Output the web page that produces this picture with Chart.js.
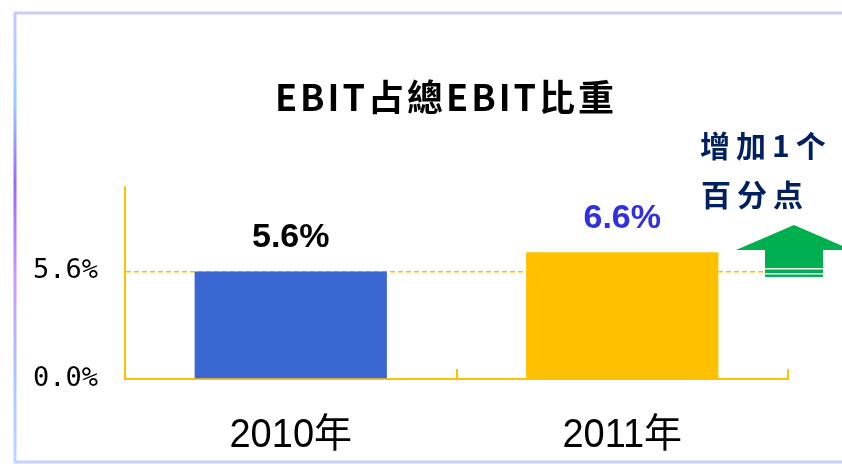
<!DOCTYPE html>
<html>
<head>
<meta charset="utf-8">
<script src="https://cdn.jsdelivr.net/npm/chart.js"></script>
<style>
html, body { margin: 0; padding: 0; background: #ffffff; }
#contenedor { width: 842px; height: 464px; position: relative; }
</style>
</head>
<body>
<div id="contenedor"><canvas id="grafico" width="842" height="464"></canvas></div>
<script>
// datos del gráfico
const categorias = ['2010年', '2011年'];
const valores = [5.6, 6.6];
const etiquetasValor = ['5.6%', '6.6%'];
const ticksY = [0, 5.6];
const lineaReferencia = 5.6;
const titulo = 'EBIT占總EBIT比重';
const nota = ['增加1个', '百分点'];

const coloresBarra = ['#3b67d3', '#ffc000'];
const coloresEtiqueta = ['#000000', '#3030e0'];
const dorado = '#ffc000';

// marco de la diapositiva
const marco = {
    id: 'marco',
    beforeDraw(chart) {
        const ctx = chart.ctx;
        ctx.save();
        ctx.fillStyle = '#ffffff';
        ctx.fillRect(0, 0, chart.width, chart.height);
        ctx.lineWidth = 3;
        ctx.strokeStyle = '#ccccf8';
        ctx.beginPath();
        ctx.moveTo(14, 13);
        ctx.lineTo(chart.width, 13);
        ctx.stroke();
        ctx.strokeStyle = '#c6d2f8';
        ctx.beginPath();
        ctx.moveTo(14, 462);
        ctx.lineTo(chart.width, 462);
        ctx.stroke();
        const g = ctx.createLinearGradient(0, 12, 0, 462);
        g.addColorStop(0, '#c8c8ff');
        g.addColorStop(0.2, '#99ccff');
        g.addColorStop(0.38, '#9966ff');
        g.addColorStop(0.6, '#cc99ff');
        g.addColorStop(0.82, '#a8c8ff');
        g.addColorStop(1, '#c0d4ff');
        ctx.strokeStyle = g;
        ctx.beginPath();
        ctx.moveTo(15, 12);
        ctx.lineTo(15, 463);
        ctx.stroke();
        ctx.restore();
    }
};

// etiquetas de valor encima de las barras y categorías del eje x
const etiquetas = {
    id: 'etiquetas',
    afterDatasetsDraw(chart) {
        const ctx = chart.ctx;
        const meta = chart.getDatasetMeta(0);
        ctx.save();
        ctx.font = 'bold 34px "Liberation Sans", Arial, sans-serif';
        ctx.textAlign = 'center';
        ctx.textBaseline = 'alphabetic';
        meta.data.forEach((barra, i) => {
            ctx.fillStyle = coloresEtiqueta[i];
            ctx.fillText(etiquetasValor[i], barra.x, barra.y - 24);
        });

        // categorías
        const ejeX = chart.scales.x;
        ctx.fillStyle = '#000000';
        ctx.font = '40px "Liberation Sans", Arial, "Noto Sans CJK SC", sans-serif';
        categorias.forEach((cat, i) => {
            const px = ejeX.getPixelForTick(i);
            ctx.save();
            ctx.translate(px, ejeX.top + 68);
            ctx.scale(0.95, 1);
            ctx.fillText(cat, 0, 0);
            ctx.restore();
        });
        ctx.restore();
    }
};

// título, flecha y nota
const adornos = {
    id: 'adornos',
    afterDraw(chart) {
        const ctx = chart.ctx;
        ctx.save();
        ctx.fillStyle = '#000000';
        ctx.font = 'bold 36px "Noto Sans CJK TC", "Noto Sans CJK SC", sans-serif';
        ctx.letterSpacing = '3px';
        ctx.textAlign = 'center';
        ctx.textBaseline = 'middle';
        ctx.fillText(titulo, 446, 97);

        // flecha verde
        ctx.fillStyle = '#00b050';
        ctx.beginPath();
        ctx.moveTo(736, 250);
        ctx.lineTo(794, 225);
        ctx.lineTo(852, 250);
        ctx.closePath();
        ctx.fill();
        ctx.fillRect(765, 249, 58, 28);
        ctx.fillStyle = '#ffffff';
        ctx.fillRect(765, 268, 58, 1.5);
        ctx.fillRect(765, 273, 58, 1.5);

        ctx.fillStyle = '#002060';
        ctx.font = 'bold 30px "Noto Sans CJK SC", sans-serif';
        ctx.textAlign = 'left';
        ctx.letterSpacing = '6px';
        ctx.fillText(nota[0], 700, 146);
        ctx.fillText(nota[1], 701, 195);
        ctx.restore();
    }
};

const ctx = document.getElementById('grafico').getContext('2d');
const grafico = new Chart(ctx, {
    type: 'bar',
    data: {
        labels: categorias,
        datasets: [{
            data: valores,
            backgroundColor: coloresBarra,
            borderWidth: 0,
            barPercentage: 0.58,
            categoryPercentage: 1
        }]
    },
    options: {
        responsive: false,
        animation: false,
        devicePixelRatio: 1,
        layout: { padding: { left: 0, right: 54, top: 187, bottom: 0 } },
        plugins: {
            legend: { display: false },
            title: { display: false },
            tooltip: { enabled: false }
        },
        scales: {
            x: {
                afterFit(eje) { eje.height = 85; },
                grid: {
                    offset: true,
                    drawOnChartArea: false,
                    drawTicks: true,
                    tickLength: -10,
                    color: dorado,
                    lineWidth: 2
                },
                border: { color: dorado, width: 2 },
                ticks: { display: false }
            },
            y: {
                min: 0,
                max: 10,
                afterFit(eje) { eje.width = 125; },
                afterBuildTicks(eje) {
                    eje.ticks = ticksY.map(v => ({ value: v }));
                },
                grid: {
                    drawTicks: false,
                    color: c => (c.tick && c.tick.value === lineaReferencia) ? dorado : 'rgba(0,0,0,0)',
                    lineWidth: 1.5
                },
                border: { color: dorado, width: 2, dash: [5, 3] },
                ticks: {
                    color: '#000000',
                    padding: 27,
                    font: { family: '"DejaVu Sans Mono", monospace', size: 27 },
                    callback: v => Number(v).toFixed(1) + '%'
                }
            }
        }
    },
    plugins: [marco, etiquetas, adornos]
});
</script>
</body>
</html>
